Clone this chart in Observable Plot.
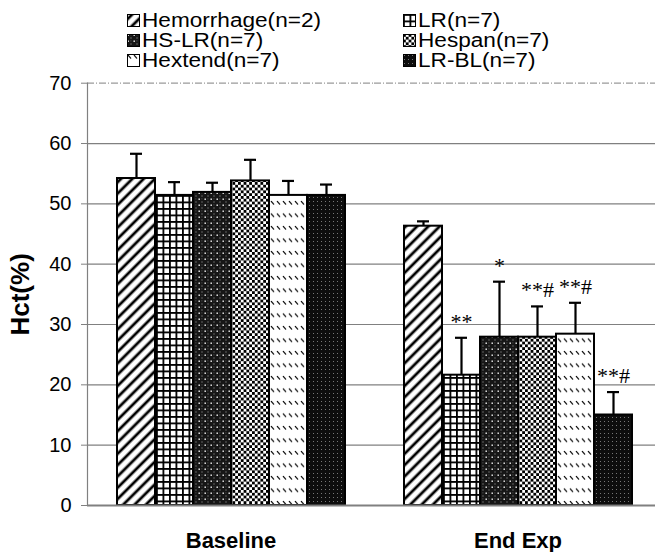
<!DOCTYPE html>
<html>
<head>
<meta charset="utf-8">
<script src="https://cdn.jsdelivr.net/npm/d3@7"></script>
<script src="https://cdn.jsdelivr.net/npm/@observablehq/plot@0.6"></script>
<style>
  html, body { margin: 0; padding: 0; background: white; overflow: hidden; }
  #wrap { position: relative; width: 655px; height: 552px; }
  #chart { position: absolute; left: 0; top: 0; }
  #legend { position: absolute; left: 127px; top: 10px; display: grid;
            grid-template-columns: 276px auto; font-family: "Liberation Sans", Arial, sans-serif;
            font-size: 20px; line-height: 20px; color: black; }
  #legend .item { white-space: nowrap; }
  #legend svg { vertical-align: baseline; margin-right: 2px; }
  #legend .lbl { display: inline-block; transform: scaleX(1.13); transform-origin: left center; }
</style>
</head>
<body>
<svg width="0" height="0" style="position:absolute">
  <defs>
    <pattern id="p-hem" patternUnits="userSpaceOnUse" width="8" height="8" patternTransform="rotate(45)">
      <rect width="8" height="8" fill="white"/>
      <line x1="4" y1="0" x2="4" y2="8" stroke="black" stroke-width="2.8"/>
    </pattern>
    <pattern id="p-lr" patternUnits="userSpaceOnUse" width="6.5" height="6.5">
      <rect width="6.5" height="6.5" fill="white"/>
      <rect width="6.5" height="1.8" fill="black"/>
      <rect width="1.8" height="6.5" fill="black"/>
    </pattern>
    <pattern id="p-hslr" patternUnits="userSpaceOnUse" width="6" height="6">
      <rect width="6" height="6" fill="#161616"/>
      <rect x="0.5" y="0.5" width="1.4" height="1.4" fill="white"/>
      <rect x="3.5" y="3.5" width="1" height="1" fill="#aaa"/>
      <rect x="3.5" y="0.5" width="0.8" height="0.8" fill="#777"/>
    </pattern>
    <pattern id="p-hes" patternUnits="userSpaceOnUse" width="5.6" height="5.6">
      <rect width="5.6" height="5.6" fill="white"/>
      <rect width="2.8" height="2.8" fill="black"/>
      <rect x="2.8" y="2.8" width="2.8" height="2.8" fill="black"/>
    </pattern>
    <pattern id="p-hex" patternUnits="userSpaceOnUse" width="6" height="12.5">
      <rect width="6" height="12.5" fill="white"/>
      <line x1="1" y1="1" x2="4" y2="4.5" stroke="black" stroke-width="1.2"/>
    </pattern>
    <pattern id="p-lrbl" patternUnits="userSpaceOnUse" width="4" height="4">
      <rect width="4" height="4" fill="#0d0d0d"/>
      <rect x="1" y="1" width="1" height="1" fill="#777"/>
    </pattern>
  </defs>
</svg>
<div id="wrap">
  <div id="chart"></div>
  <div id="legend"></div>
</div>
<script>
// ---- data ----
const categories = ["Baseline", "End Exp"];
const groups = ["Hemorrhage(n=2)", "LR(n=7)", "HS-LR(n=7)", "Hespan(n=7)", "Hextend(n=7)", "LR-BL(n=7)"];
const baselineMean = [54.2, 51.4, 51.9, 53.8, 51.4, 51.4];
const baselineSD   = [4.1, 2.2, 1.6, 3.5, 2.4, 1.8];
const endMean      = [46.3, 21.6, 27.9, 27.9, 28.4, 15.0];
const endSD        = [0.8, 6.2, 9.2, 5.1, 5.2, 3.8];
const endMarks     = ["", "**", "*", "**#", "**#", "**#"];
const yTicks       = [0, 10, 20, 30, 40, 50, 60, 70];
const gridTicks    = [10, 20, 30, 40, 50, 60];
const yTitle       = "Hct(%)";
const patternIds   = ["p-hem", "p-lr", "p-hslr", "p-hes", "p-hex", "p-lrbl"];

const means = [baselineMean, endMean];
const sds = [baselineSD, endSD];
const rows = [];
categories.forEach((c, ci) => groups.forEach((g, gi) => rows.push({
  time: c, group: g, mean: means[ci][gi], sd: sds[ci][gi], top: means[ci][gi] + sds[ci][gi],
  mark: ci === 1 ? endMarks[gi] : ""
})));
const patternUrls = patternIds.map(id => `url(#${id})`);

const chart = Plot.plot({
  width: 655,
  height: 552,
  marginLeft: 87,
  marginRight: -6,
  marginTop: 82.7,
  marginBottom: 47,
  style: {fontFamily: "'Liberation Sans', Arial, sans-serif", fontSize: "20px", background: "white", color: "black"},
  fx: {domain: categories, padding: 0, label: null, axis: null},
  x: {domain: groups, paddingInner: 0, paddingOuter: 0.737, axis: null},
  y: {domain: [0, 70], label: null, axis: null},
  color: {type: "ordinal", domain: groups, range: patternUrls},
  marks: [
    Plot.ruleY(gridTicks, {stroke: "#808080", strokeWidth: 1.2}),
    Plot.ruleY([70], {stroke: "#9a9a9a", strokeWidth: 1.2, strokeDasharray: "7 2 1 2"}),
    Plot.frame({anchor: "left", facetAnchor: "left", stroke: "#808080", strokeWidth: 1.2}),
    Plot.barY(rows, {fx: "time", x: "group", y: "mean", fill: "group", stroke: "black", strokeWidth: 2}),
    Plot.ruleX(rows, {fx: "time", x: "group", y1: "mean", y2: "top", stroke: "black", strokeWidth: 2.2}),
    Plot.tickY(rows, {fx: "time", x: "group", y: "top", insetLeft: 13, insetRight: 13, stroke: "black", strokeWidth: 2.2}),
    Plot.text(rows, {fx: "time", x: "group", y: "top", text: "mark", lineAnchor: "bottom", dy: -9,
      fontFamily: "'Liberation Serif', 'Times New Roman', serif", fontSize: 22, fill: "black"}),
    Plot.ruleY([0], {stroke: "#808080", strokeWidth: 1.8}),
    Plot.axisY({ticks: yTicks, tickSize: 6, tickPadding: 10, stroke: "#808080", fill: "black",
      label: null, fontSize: 20}),
    Plot.text([yTitle], {frameAnchor: "left", facetAnchor: "left", rotate: -90, dx: -67, textAnchor: "middle",
      lineAnchor: "middle", fontSize: 26, fontWeight: "bold", fill: "black", text: d => d}),
    Plot.axisFx({anchor: "bottom", tickSize: 0, tickPadding: 27, fontSize: 22, fontWeight: "bold", label: null, fill: "black"})
  ]
});
document.getElementById("chart").appendChild(chart);

// ---- legend (HTML) ----
const legend = document.getElementById("legend");
groups.forEach((g, i) => {
  const item = document.createElement("div");
  item.className = "item";
  item.innerHTML = `<svg width="13" height="13"><rect x="0.5" y="0.5" width="12" height="12" fill="${patternUrls[i]}" stroke="black" stroke-width="1"/></svg><span class="lbl">${g}</span>`;
  legend.appendChild(item);
});
</script>
</body>
</html>
